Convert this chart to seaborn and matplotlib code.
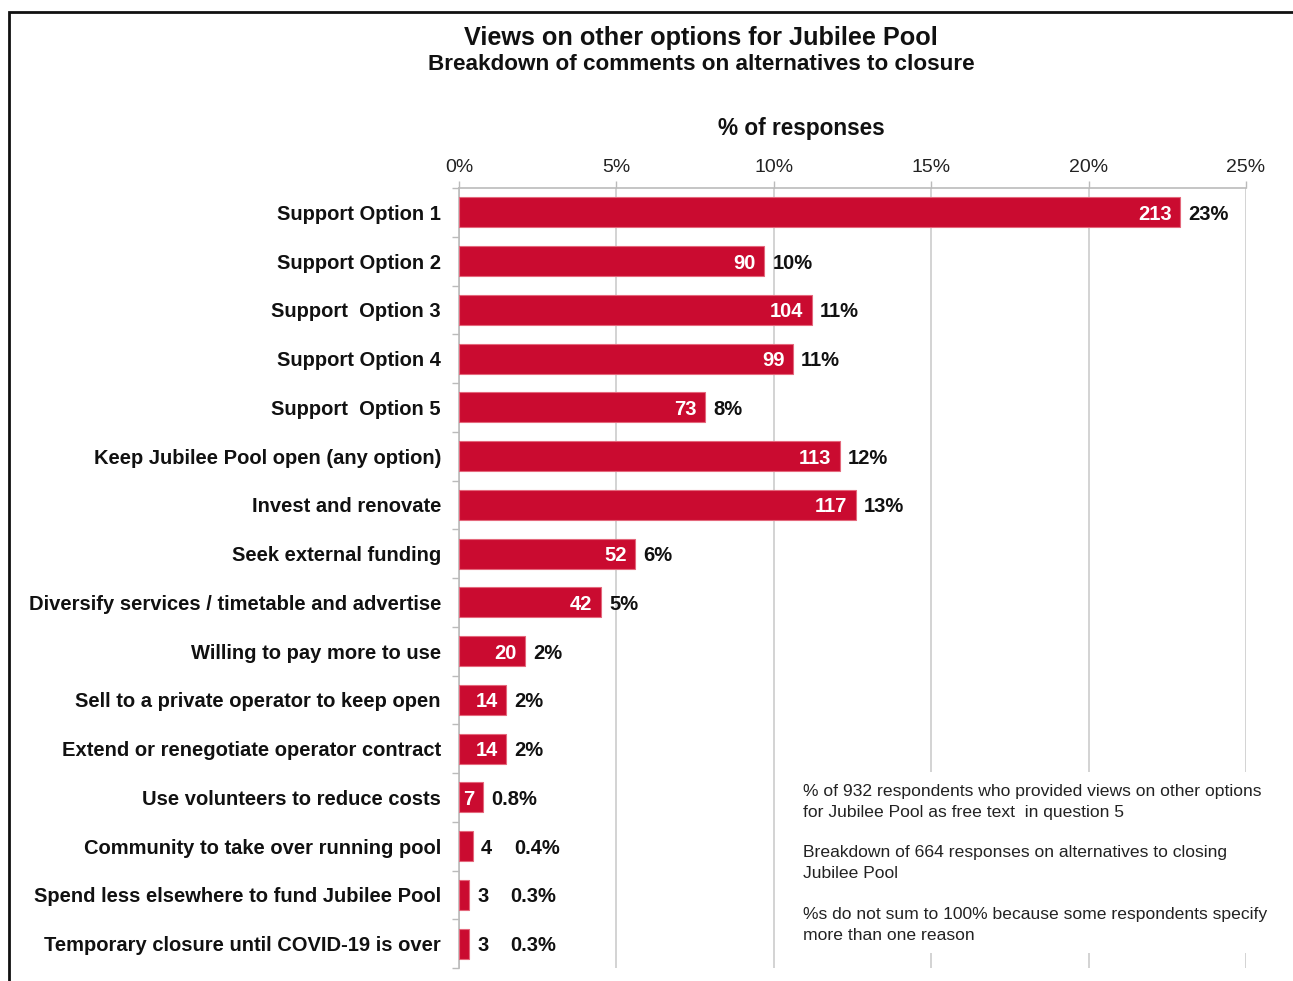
import matplotlib
matplotlib.use("Agg")
import matplotlib.pyplot as plt
from matplotlib.patches import Rectangle
from matplotlib.ticker import FixedLocator, PercentFormatter
import seaborn as sns
import pandas as pd

categories = [
    "Support Option 1",
    "Support Option 2",
    "Support  Option 3",
    "Support Option 4",
    "Support  Option 5",
    "Keep Jubilee Pool open (any option)",
    "Invest and renovate",
    "Seek external funding",
    "Diversify services / timetable and advertise",
    "Willing to pay more to use",
    "Sell to a private operator to keep open",
    "Extend or renegotiate operator contract",
    "Use volunteers to reduce costs",
    "Community to take over running pool",
    "Spend less elsewhere to fund Jubilee Pool",
    "Temporary closure until COVID-19 is over",
]
counts = [213, 90, 104, 99, 73, 113, 117, 52, 42, 20, 14, 14, 7, 4, 3, 3]
pct_values = [22.9, 9.7, 11.2, 10.6, 7.8, 12.1, 12.6, 5.6, 4.5, 2.1, 1.5, 1.5, 0.75, 0.43, 0.32, 0.32]
pct_labels = ["23%", "10%", "11%", "11%", "8%", "12%", "13%", "6%", "5%", "2%", "2%", "2%",
              "0.8%", "0.4%", "0.3%", "0.3%"]
x_ticks = [0, 5, 10, 15, 20, 25]

title = "Views on other options for Jubilee Pool"
subtitle = "Breakdown of comments on alternatives to closure"
axis_title = "% of responses"
notes = [
    "% of 932 respondents who provided views on other options\nfor Jubilee Pool as free text  in question 5",
    "Breakdown of 664 responses on alternatives to closing\nJubilee Pool",
    "%s do not sum to 100% because some respondents specify\nmore than one reason",
]

df = pd.DataFrame({"category": categories, "pct": pct_values})

sns.set_theme(style="white")
plt.rcParams["font.family"] = ["Liberation Sans", "DejaVu Sans"]

W, H = 1293, 981
fig = plt.figure(figsize=(W / 100, H / 100), dpi=100)
fig.patch.set_facecolor("white")
ax = fig.add_axes([459 / W, 1 - 968 / H, (1246 - 459) / W, (968 - 188) / H])

BAR = "#CA0B30"
sns.barplot(data=df, x="pct", y="category", orient="h", color=BAR, width=0.62,
            edgecolor="#E4687C", linewidth=0.8, saturation=1, ax=ax, zorder=3)

ax.set_xlim(0, 25)
ax.set_ylim(len(categories) - 0.5, -0.5)
ax.xaxis.set_major_locator(FixedLocator(x_ticks))
ax.xaxis.set_major_formatter(PercentFormatter(decimals=0))
ax.xaxis.tick_top()
ax.set_xlabel("")
ax.set_ylabel("")
ax.tick_params(axis="x", length=5, width=1, color="#BBBBBB", labelsize=14,
               labelcolor="#222222", pad=4)
ax.grid(axis="x", color="#CCCCCC", linewidth=1.2, zorder=0)
ax.set_axisbelow(True)

fig.text(801 / W, 1 - 128 / H, axis_title, ha="center", va="center", fontsize=16.3,
         fontweight="bold", color="#111111")

# y axis: labels without ticks, minor ticks at category boundaries
ax.tick_params(axis="y", which="major", length=0, labelsize=14.5, pad=13)
for lab in ax.get_yticklabels():
    lab.set_fontweight("bold")
    lab.set_color("#111111")
ax.yaxis.set_minor_locator(FixedLocator([i + 0.5 for i in range(-1, len(categories))]))
ax.tick_params(axis="y", which="minor", length=5, width=1, color="#BBBBBB", left=True)

for s in ["right", "bottom"]:
    ax.spines[s].set_visible(False)
for s in ["top", "left"]:
    ax.spines[s].set_color("#BBBBBB")
    ax.spines[s].set_linewidth(1.2)

FS = 14.5
for i, (c, p, lab) in enumerate(zip(counts, pct_values, pct_labels)):
    if c >= 7:
        ax.annotate(str(c), (p, i), xytext=(-6, -1.5), textcoords="offset points",
                    ha="right", va="center", color="white", fontsize=FS, fontweight="bold", zorder=5)
        ax.annotate(lab, (p, i), xytext=(6, -1.5), textcoords="offset points",
                    ha="left", va="center", color="#111111", fontsize=FS, fontweight="bold", zorder=5)
    else:
        ax.annotate(str(c), (p, i), xytext=(6, -1.5), textcoords="offset points",
                    ha="left", va="center", color="#111111", fontsize=FS, fontweight="bold", zorder=5)
        ax.annotate(lab, (p, i), xytext=(30, -1.5), textcoords="offset points",
                    ha="left", va="center", color="#111111", fontsize=FS, fontweight="bold", zorder=5)

# white box behind notes (hides gridlines)
ax.add_patch(Rectangle((792 / W, 1 - 953 / H), (1285 - 792) / W, (953 - 772) / H,
                       transform=fig.transFigure, facecolor="white", edgecolor="none",
                       zorder=6, clip_on=False))
note_y = [802, 863, 925]
for t, y in zip(notes, note_y):
    fig.text(803 / W, 1 - y / H, t, ha="left", va="center", fontsize=12.6,
             color="#222222", linespacing=1.55, zorder=7)

fig.text(701 / W, 1 - 38 / H, title, ha="center", va="center", fontsize=18.2,
         fontweight="bold", color="#111111")
fig.text(701 / W, 1 - 65 / H, subtitle, ha="center", va="center", fontsize=16.2,
         fontweight="bold", color="#111111")

# outer frame (cropped at right and bottom)
fig.patches.append(Rectangle((9 / W, -0.05), 1.2, (1 - 12 / H) + 0.05,
                             transform=fig.transFigure, facecolor="none",
                             edgecolor="#111111", linewidth=2, zorder=10))

fig.savefig("out.png", dpi=100, facecolor="white")
